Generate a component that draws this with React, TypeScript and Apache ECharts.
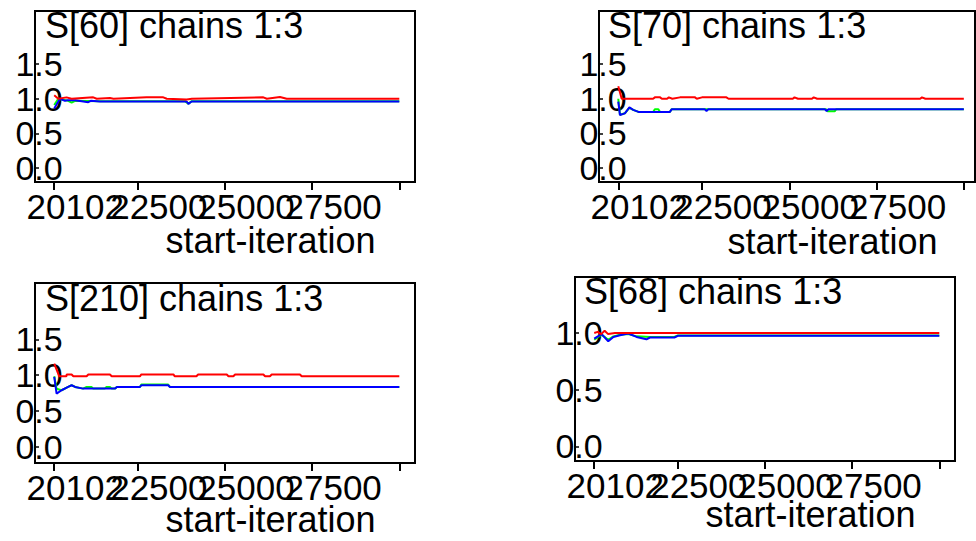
import React, { useEffect, useRef } from "react";
import * as echarts from "echarts";

// ---------- data ----------
const panelTitles = ["S[60] chains 1:3", "S[70] chains 1:3", "S[210] chains 1:3", "S[68] chains 1:3"];
const xAxisName = "start-iteration";
const xTickValues = [20102, 22500, 25000, 27500, 30000];
const xLabelValues = [20102, 22500, 25000, 27500];
const yTicksTall = [0, 0.5, 1.0, 1.5];
const yTicksShort = [0, 0.5, 1.0];

// S[60]
const s60Green = [[20102, 0.91], [20217, 1.0], [20500, 0.97], [20600, 0.945], [20700, 0.97], [21412, 0.965], [23850, 0.965], [23946, 0.93], [24050, 0.965], [30000, 0.965]];
const s60Blue = [[20102, 0.86], [20265, 1.0], [20410, 0.97], [20500, 0.98], [20700, 0.98], [21077, 0.95], [21150, 0.97], [21412, 0.96], [23900, 0.96], [23950, 0.925], [24040, 0.96], [30000, 0.96]];
const s60Red = [[20102, 1.05], [20217, 1.0], [20456, 1.02], [20600, 1.0], [21221, 1.02], [21320, 1.0], [21700, 1.01], [21800, 1.0], [22750, 1.02], [23230, 1.02], [23330, 1.0], [23900, 0.99], [24050, 1.0], [26100, 1.02], [26200, 1.0], [26576, 1.025], [26770, 1.0], [30000, 1.0]];

// S[70]
const s70Green = [[20102, 1.0], [20150, 0.77], [20290, 0.79], [20420, 0.87], [20530, 0.84], [20680, 0.81], [21100, 0.81], [21150, 0.85], [21250, 0.85], [21300, 0.81], [21580, 0.81], [21630, 0.85], [26050, 0.85], [26100, 0.82], [26300, 0.82], [26350, 0.85], [30000, 0.85]];
const s70Blue = [[20102, 0.96], [20150, 0.765], [20290, 0.79], [20420, 0.876], [20530, 0.84], [20680, 0.81], [21580, 0.81], [21630, 0.847], [22580, 0.847], [22630, 0.825], [22680, 0.847], [26020, 0.847], [26070, 0.825], [26120, 0.847], [30000, 0.847]];
const s70Red = [[20102, 1.18], [20200, 1.0], [21100, 1.0], [21150, 1.02], [21300, 1.02], [21350, 1.0], [21500, 1.0], [21550, 1.02], [21650, 1.0], [21870, 1.02], [22300, 1.02], [22350, 1.0], [22500, 1.02], [23200, 1.02], [23260, 1.0], [25100, 1.0], [25150, 1.02], [25250, 1.0], [25650, 1.0], [25700, 1.02], [25800, 1.0], [28750, 1.0], [28800, 1.02], [28900, 1.0], [30000, 1.0]];

// S[210]
const s210Green = [[20102, 0.985], [20169, 0.81], [20312, 0.79], [20500, 0.836], [20600, 0.86], [20700, 0.836], [20930, 0.813], [21030, 0.836], [21170, 0.836], [21220, 0.813], [21550, 0.813], [21600, 0.836], [21700, 0.836], [21750, 0.813], [21840, 0.813], [21900, 0.836], [22560, 0.836], [22600, 0.869], [23370, 0.869], [23420, 0.836], [30000, 0.836]];
const s210Blue = [[20102, 0.975], [20169, 0.744], [20312, 0.79], [20500, 0.836], [20600, 0.86], [20700, 0.836], [20930, 0.813], [21840, 0.813], [21900, 0.836], [22560, 0.836], [22600, 0.859], [23370, 0.859], [23420, 0.836], [30000, 0.836]];
const s210Red = [[20102, 1.16], [20245, 0.985], [20450, 0.985], [20460, 1.01], [20600, 1.01], [20650, 0.985], [21030, 0.985], [21080, 1.01], [21700, 1.01], [21750, 0.985], [22560, 0.985], [22600, 1.01], [23520, 1.01], [23560, 0.985], [24180, 0.985], [24230, 1.01], [25050, 1.01], [25100, 0.985], [25240, 0.985], [25290, 1.01], [26100, 1.01], [26150, 0.985], [26290, 0.985], [26340, 1.01], [27150, 1.01], [27200, 0.985], [30000, 0.985]];

// S[68]
const s68Green = [[20102, 0.94], [20312, 0.985], [20504, 0.94], [20650, 0.97], [20840, 0.985], [21080, 0.99], [21316, 0.97], [21700, 0.965], [22400, 0.965], [22500, 0.978], [30000, 0.978]];
const s68Blue = [[20102, 0.95], [20312, 0.99], [20504, 0.927], [20650, 0.965], [20840, 0.98], [21080, 0.995], [21316, 0.965], [21600, 0.944], [21700, 0.96], [22400, 0.96], [22500, 0.975], [30000, 0.975]];
const s68Red = [[20102, 1.0], [20200, 1.01], [20300, 0.99], [20400, 1.02], [20500, 0.99], [20700, 1.0], [30000, 1.0]];

const panelSeries = [
  [s60Green, s60Blue, s60Red],
  [s70Green, s70Blue, s70Red],
  [s210Green, s210Blue, s210Red],
  [s68Green, s68Blue, s68Red],
];
const panelYTicks = [yTicksTall, yTicksTall, yTicksTall, yTicksShort];

// ---------- layout / style ----------
const FONT = "'Liberation Sans', Arial, sans-serif";
const layout = [
  { left: 35, top: 11, width: 380, height: 171, xMin: 19550, xMax: 30450, yMin: -0.2, yMax: 2.265, titleLeft: 45, titleTop: 7, nameGap: 40 },
  { left: 599, top: 11, width: 376, height: 171, xMin: 19550, xMax: 30320, yMin: -0.2, yMax: 2.265, titleLeft: 608, titleTop: 7, nameGap: 41 },
  { left: 35, top: 283, width: 380, height: 180, xMin: 19550, xMax: 30450, yMin: -0.223, yMax: 2.284, titleLeft: 45, titleTop: 280, nameGap: 38.5 },
  { left: 575, top: 277, width: 380, height: 184, xMin: 19550, xMax: 30450, yMin: -0.13, yMax: 1.494, titleLeft: 584, titleTop: 273.5, nameGap: 35.5 },
];
const lineColors = ["#00ff00", "#0000ff", "#ff0000"];
const AXES_PER_PANEL = 1 + xLabelValues.length;

export default function App() {
  const ref = useRef<HTMLDivElement>(null);
  useEffect(() => {
    if (!ref.current) return;
    const chart = echarts.init(ref.current, undefined, { renderer: "svg" });

    const xAxes: any[] = [];
    layout.forEach((l, i) => {
      // main axis: ticks + name, the series use it
      xAxes.push({
        gridIndex: i,
        type: "value",
        position: "bottom",
        offset: 0,
        min: l.xMin,
        max: l.xMax,
        splitLine: { show: false },
        axisLine: { show: false, onZero: false },
        axisTick: { show: true, inside: false, length: 8, customValues: xTickValues, lineStyle: { color: "#000", width: 2 } },
        axisLabel: { show: false },
        name: xAxisName,
        nameLocation: "middle",
        nameGap: l.nameGap,
        nameMoveOverlap: false,
        nameTextStyle: { fontSize: 36, fontFamily: FONT, color: "#000", padding: [0, 0, 0, 91] },
      });
      // one label per axis so that overlapping labels are all kept (as in the reference)
      xLabelValues.forEach((v) => {
        xAxes.push({
          gridIndex: i,
          type: "value",
          position: "bottom",
          offset: 0,
          min: l.xMin,
          max: l.xMax,
          splitLine: { show: false },
          axisLine: { show: false, onZero: false },
          axisTick: { show: false },
          axisLabel: {
            show: true,
            customValues: [v],
            formatter: (val: number) => String(val),
            fontSize: 35,
            fontFamily: FONT,
            color: "#000",
            margin: 7,
            padding: [0, 0, 0, 42],
            showMinLabel: true,
            showMaxLabel: true,
          },
        });
      });
    });

    const option: any = {
      animation: false,
      backgroundColor: "#ffffff",
      title: layout.map((l, i) => ({
        text: panelTitles[i],
        left: l.titleLeft,
        top: l.titleTop,
        padding: 0,
        textStyle: { fontSize: 36, fontWeight: "normal", color: "#000", fontFamily: FONT },
      })),
      grid: layout.map((l) => ({
        left: l.left,
        top: l.top,
        width: l.width,
        height: l.height,
        show: true,
        borderColor: "#000",
        borderWidth: 2,
        backgroundColor: "transparent",
        containLabel: false,
        outerBoundsMode: "none",
      })),
      xAxis: xAxes,
      yAxis: layout.map((l, i) => ({
        gridIndex: i,
        type: "value",
        min: l.yMin,
        max: l.yMax,
        splitLine: { show: false },
        axisLine: { show: false, onZero: false },
        axisTick: { show: true, inside: true, length: 4, customValues: panelYTicks[i], lineStyle: { color: "#000", width: 1.5 } },
        axisLabel: {
          show: true,
          customValues: panelYTicks[i],
          formatter: (v: number) => v.toFixed(1),
          fontSize: 34,
          fontFamily: FONT,
          color: "#000",
          align: "center",
          margin: -4,
          padding: [0, 0, 4, 0],
          showMinLabel: true,
          showMaxLabel: true,
        },
      })),
      series: panelSeries.flatMap((trio, i) =>
        trio.map((data, k) => ({
          type: "line",
          xAxisIndex: i * AXES_PER_PANEL,
          yAxisIndex: i,
          data,
          symbol: "none",
          smooth: false,
          z: 2 + k,
          lineStyle: { color: lineColors[k], width: 2 },
          emphasis: { disabled: true },
        }))
      ),
    };
    chart.setOption(option);
    return () => chart.dispose();
  }, []);
  return (
    <div
      ref={ref}
      style={{ position: "fixed", left: 0, top: 0, width: 976, height: 541, background: "#fff" }}
    />
  );
}
